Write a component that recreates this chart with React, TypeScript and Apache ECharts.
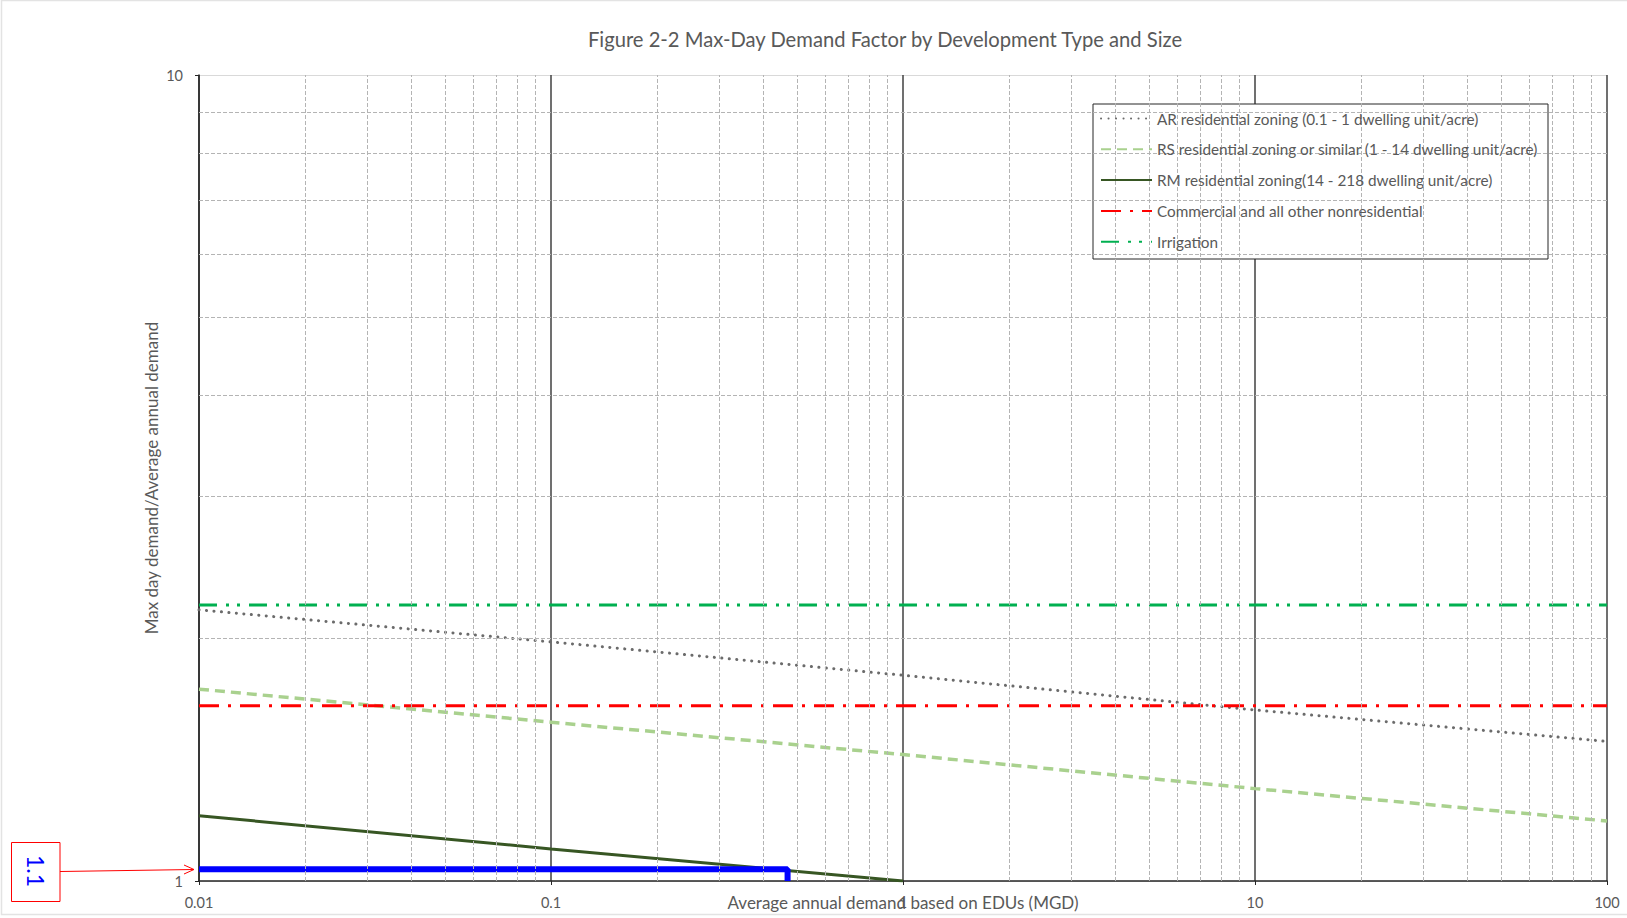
import React, { useEffect, useRef } from "react";
import * as echarts from "echarts";

// ---- data ----
const titleText = "Figure 2-2 Max-Day Demand Factor by Development Type and Size";
const xAxisName = "Average annual demand based on EDUs (MGD)";
const yAxisName = "Max day demand/Average annual demand";

const seriesNames = [
  "AR residential zoning (0.1 - 1 dwelling unit/acre)",
  "RS residential zoning or similar (1 - 14 dwelling unit/acre)",
  "RM residential zoning(14 - 218 dwelling unit/acre)",
  "Commercial and all other nonresidential",
  "Irrigation",
];

const decadeX = [0.01, 0.1, 1, 10, 100];
const arValues = [2.17, 1.98, 1.8, 1.63, 1.49];
const rsValues = [1.73, 1.574, 1.435, 1.302, 1.187];
const rmX = [0.01, 0.1, 1];
const rmValues = [1.205, 1.096, 1.0];
const flatX = [0.01, 100];
const commercialValues = [1.65, 1.65];
const irrigationValues = [2.2, 2.2];

const annotX = [0.01, 0.47, 0.47];
const annotY = [1.034, 1.034, 1.0];
const annotLabel = "1.1";

const minorX = [
  0.02, 0.03, 0.04, 0.05, 0.06, 0.07, 0.08, 0.09,
  0.2, 0.3, 0.4, 0.5, 0.6, 0.7, 0.8, 0.9,
  2, 3, 4, 5, 6, 7, 8, 9,
  20, 30, 40, 50, 60, 70, 80, 90,
];
const minorY = [2, 3, 4, 5, 6, 7, 8, 9];

const pairs = (xs: number[], ys: number[]) => xs.map((x, i) => [x, ys[i]]);

const FONT = "Lato, 'Open Sans', sans-serif";
const TXT = "#595959";

export default function App() {
  const ref = useRef<HTMLDivElement>(null);
  useEffect(() => {
    if (!ref.current) return;
    const chart = echarts.init(ref.current, undefined, { renderer: "svg" });
    const gridLeft = 199;
    const gridTop = 75;
    const gridRight = 1607;
    const gridBottom = 881;

    const lineCommon = { type: "line", symbol: "none", showSymbol: false, z: 3, silent: true };

    const option: any = {
      animation: false,
      backgroundColor: "#ffffff",
      textStyle: { fontFamily: FONT },
      grid: {
        left: gridLeft,
        top: gridTop,
        right: 1627 - gridRight,
        bottom: 918 - gridBottom,
        containLabel: false,
        outerBoundsMode: "none",
      },
      xAxis: {
        type: "log",
        logBase: 10,
        min: 0.01,
        max: 100,
        name: xAxisName,
        nameLocation: "middle",
        nameGap: 13,
        nameMoveOverlap: false,
        nameTextStyle: { color: TXT, fontSize: 17, fontFamily: FONT, verticalAlign: "top" },
        axisLine: { show: true, lineStyle: { color: "#262626", width: 1.5 } },
        axisTick: { show: true, length: 4, lineStyle: { color: "#262626" } },
        axisLabel: { color: TXT, fontSize: 14.5, fontFamily: FONT, margin: 14 },
        splitLine: { show: true, lineStyle: { color: "#404040", width: 1.5 } },
        minorTick: { show: false },
        minorSplitLine: { show: false },
      },
      yAxis: {
        type: "log",
        logBase: 10,
        min: 1,
        max: 10,
        name: yAxisName,
        nameLocation: "middle",
        nameGap: 39,
        nameMoveOverlap: false,
        nameTextStyle: { color: TXT, fontSize: 17, fontFamily: FONT },
        axisLine: { show: true, lineStyle: { color: "#262626", width: 1.5 } },
        axisTick: { show: true, length: 4, lineStyle: { color: "#262626" } },
        axisLabel: { color: TXT, fontSize: 14.5, fontFamily: FONT, margin: 16 },
        splitLine: { show: true, lineStyle: { color: "#d9d9d9", width: 1 } },
      },
      legend: {
        data: seriesNames,
        orient: "vertical",
        left: 1100,
        top: 111,
        padding: 0,
        itemWidth: 51,
        itemHeight: 14,
        itemGap: 15.8,
        z: 6,
        selectedMode: false,
        itemStyle: { opacity: 0, borderWidth: 0 },
        textStyle: { color: TXT, fontSize: 15.3, lineHeight: 14, fontFamily: FONT },
      },
      graphic: [
        {
          type: "rect",
          z: 5,
          shape: { x: 1093, y: 104, width: 455, height: 155 },
          style: { fill: "#ffffff", stroke: "#262626", lineWidth: 1 },
        },
        {
          type: "text",
          z: 5,
          x: 885,
          y: 39,
          style: {
            text: titleText,
            fill: TXT,
            fontSize: 20.2,
            fontFamily: FONT,
            textAlign: "center",
            textVerticalAlign: "middle",
          },
        },
        {
          type: "rect",
          z: 5,
          shape: { x: 11.5, y: 842.5, width: 48.5, height: 59 },
          style: { fill: "#ffffff", stroke: "#ff0000", lineWidth: 1 },
        },
        {
          type: "text",
          z: 6,
          x: 36,
          y: 871,
          rotation: -Math.PI / 2,
          style: {
            text: annotLabel,
            fill: "#0000ff",
            fontSize: 23,
            fontFamily: FONT,
            textAlign: "center",
            textVerticalAlign: "middle",
          },
        },
        {
          type: "line",
          z: 6,
          shape: { x1: 60, y1: 871.5, x2: 194, y2: 869.5 },
          style: { stroke: "#ff0000", lineWidth: 1 },
        },
        {
          type: "polyline",
          z: 6,
          shape: { points: [[184, 865], [194, 869.5], [184, 874]] },
          style: { stroke: "#ff0000", lineWidth: 1, fill: "none" },
        },
        {
          type: "rect",
          z: 0,
          shape: { x: 1.5, y: 0.5, width: 1660, height: 914 },
          style: { fill: "none", stroke: "#e3e3e3", lineWidth: 1.5 },
        },
      ],
      series: [
        {
          name: "minor-grid",
          type: "line",
          data: [],
          z: 1,
          silent: true,
          markLine: {
            silent: true,
            symbol: ["none", "none"],
            label: { show: false },
            animation: false,
            lineStyle: { color: "#b4b4b4", width: 1, type: [4, 2] },
            emphasis: { disabled: true },
            data: [
              ...minorX.map((v) => ({ xAxis: v })),
              ...minorY.map((v) => ({ yAxis: v })),
            ],
          },
        },
        {
          ...lineCommon,
          name: seriesNames[0],
          data: pairs(decadeX, arValues),
          lineStyle: { color: "#6b6b6b", width: 3, type: [0.1, 7.4], cap: "round" },
          itemStyle: { color: "#6b6b6b" },
        },
        {
          ...lineCommon,
          name: seriesNames[1],
          data: pairs(decadeX, rsValues),
          lineStyle: { color: "#a9d18e", width: 3.5, type: [10, 6] },
          itemStyle: { color: "#a9d18e" },
        },
        {
          ...lineCommon,
          name: seriesNames[2],
          data: pairs(rmX, rmValues),
          lineStyle: { color: "#375623", width: 3, type: "solid" },
          itemStyle: { color: "#375623" },
        },
        {
          ...lineCommon,
          name: seriesNames[3],
          data: pairs(flatX, commercialValues),
          lineStyle: { color: "#ff0000", width: 3, type: [20, 9, 3, 9] },
          itemStyle: { color: "#ff0000" },
        },
        {
          ...lineCommon,
          name: seriesNames[4],
          data: pairs(flatX, irrigationValues),
          lineStyle: { color: "#00b050", width: 3, type: [18, 9, 3, 8, 3, 9] },
          itemStyle: { color: "#00b050" },
        },
        {
          ...lineCommon,
          name: "annotation",
          data: pairs(annotX, annotY),
          z: 4,
          lineStyle: { color: "#0000ff", width: 6, type: "solid" },
          itemStyle: { color: "#0000ff" },
        },
      ],
    };
    chart.setOption(option);
    return () => chart.dispose();
  }, []);
  return (
    <div
      ref={ref}
      style={{ position: "fixed", left: 0, top: 0, width: 1627, height: 918 }}
    />
  );
}
